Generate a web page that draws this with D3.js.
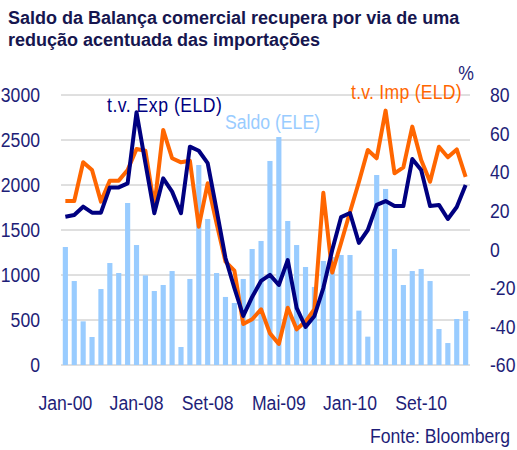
<!DOCTYPE html>
<html>
<head>
<meta charset="utf-8">
<script src="https://cdn.jsdelivr.net/npm/d3@7"></script>
<style>
  html, body { margin: 0; padding: 0; background: #ffffff; }
  svg { display: block; }
  .lbl { font-family: "Liberation Sans", Arial, sans-serif; }
</style>
</head>
<body>
<svg id="chart" width="517" height="450"></svg>
<script>
// ---- data ----
const categories = [
  "Mai-07","Jun-07","Jul-07","Ago-07","Set-07","Out-07","Nov-07","Dez-07",
  "Jan-08","Fev-08","Mar-08","Abr-08","Mai-08","Jun-08","Jul-08","Ago-08",
  "Set-08","Out-08","Nov-08","Dez-08","Jan-09","Fev-09","Mar-09","Abr-09",
  "Mai-09","Jun-09","Jul-09","Ago-09","Set-09","Out-09","Nov-09","Dez-09",
  "Jan-10","Fev-10","Mar-10","Abr-10","Mai-10","Jun-10","Jul-10","Ago-10",
  "Set-10","Out-10","Nov-10","Dez-10","Jan-11","Fev-11"
];
const saldo = [
  1311, 933, 485, 311, 844, 1133, 1022, 1800,
  1333, 996, 822, 889, 1044, 200, 956, 2222,
  1622, 1022, 756, 689, 956, 1289, 1378, 2267,
  2533, 1600, 1333, 1089, 867, 1156, 1200, 1222,
  1222, 604, 315, 2111, 1956, 1289, 889, 1044,
  1067, 933, 400, 244, 511, 600
];
const tvExp = [
  16.9, 17.8, 22.1, 19.0, 19.0, 32.1, 32.1, 34.2,
  71.0, 44.7, 18.7, 36.8, 29.9, 18.7, 53.2, 51.1,
  44.7, 20.4, -4.5, -20.1, -34.6, -24.7, -16.4, -13.3,
  -18.5, -5.6, -30.4, -40.3, -34.6, -20.1, -0.4, 16.7,
  18.8, 3.3, 10.0, 23.0, 25.0, 22.4, 22.4, 46.8,
  41.1, 22.4, 23.0, 15.7, 21.9, 33.3
];
const tvImp = [
  25.0, 25.0, 45.1, 41.1, 24.7, 35.6, 35.6, 41.1,
  52.0, 51.1, 22.1, 61.9, 47.2, 45.1, 45.9, 11.7,
  34.2, 13.5, -6.4, -11.1, -38.7, -36.3, -31.1, -43.6,
  -49.1, -30.3, -41.5, -37.5, -31.1, 29.3, -12.1, 3.4,
  19.3, 34.9, 51.5, 47.2, 71.9, 39.4, 42.5, 63.6,
  46.3, 35.0, 53.2, 47.7, 51.8, 37.6
];
const tickCategories = ["Mai-07","Jan-08","Set-08","Mai-09","Jan-10","Set-10"];
const tickLabels = ["Jan-00","Jan-08","Set-08","Mai-09","Jan-10","Set-10"];
const leftTicks = [0, 500, 1000, 1500, 2000, 2500, 3000];
const rightTicks = [-60, -40, -20, 0, 20, 40, 60, 80];
const titleLines = [
  "Saldo da Balança comercial recupera por via de uma",
  "redução acentuada das importações"
];

// ---- layout ----
const svg = d3.select("#chart");
const pLeft = 61, pRight = 470, pTop = 95, pBottom = 365;
const navy = "#000080", orange = "#FF6600", lightBlue = "#99CCFF";
const textNavy = "#1E1E78", titleNavy = "#16164F";
const fs = 21, sx = 0.84;

const x = d3.scaleBand().domain(categories).range([pLeft, pRight]).paddingInner(0.42).paddingOuter(0.2);
const yL = d3.scaleLinear().domain([0, 3000]).range([pBottom, pTop]);
const yR = d3.scaleLinear().domain([-60, 80]).range([pBottom, pTop]);

// compress text horizontally around its anchor (narrow face emulation)
function narrow(sel) {
  sel.each(function () {
    const t = d3.select(this);
    const ax = +(t.attr("x") || 0), ay = +(t.attr("y") || 0);
    t.attr("x", 0).attr("y", 0).attr("transform", `translate(${ax},${ay}) scale(${sx},1)`);
  });
}

// title
svg.append("g").selectAll("text").data(titleLines).join("text")
  .attr("x", 8).attr("y", (d, i) => 24 + i * 22)
  .attr("font-family", "'Liberation Sans', Arial, sans-serif")
  .attr("font-weight", "bold").attr("font-size", 18)
  .attr("fill", titleNavy)
  .text(d => d);

// gridlines
svg.append("g").selectAll("line").data(leftTicks).join("line")
  .attr("x1", pLeft).attr("x2", pRight)
  .attr("y1", d => yL(d)).attr("y2", d => yL(d))
  .attr("stroke", "#C0C0C0").attr("stroke-width", 1);

// bars
svg.append("g").selectAll("rect").data(saldo).join("rect")
  .attr("x", (d, i) => x(categories[i]))
  .attr("width", x.bandwidth())
  .attr("y", d => yL(d))
  .attr("height", d => yL(0) - yL(d))
  .attr("fill", lightBlue);

// lines
const line = d3.line()
  .x((d, i) => x(categories[i]) + x.bandwidth() / 2)
  .y(d => yR(d));
svg.append("path").datum(tvImp).attr("d", line)
  .attr("fill", "none").attr("stroke", orange).attr("stroke-width", 4).attr("stroke-linejoin", "round");
svg.append("path").datum(tvExp).attr("d", line)
  .attr("fill", "none").attr("stroke", navy).attr("stroke-width", 4).attr("stroke-linejoin", "round");

// axes
const plain = d => String(d);
const gL = svg.append("g").attr("transform", `translate(${pLeft},0)`)
  .call(d3.axisLeft(yL).tickValues(leftTicks).tickFormat(plain).tickSize(0).tickPadding(21));
const gR = svg.append("g").attr("transform", `translate(${pRight},0)`)
  .call(d3.axisRight(yR).tickValues(rightTicks).tickFormat(plain).tickSize(0).tickPadding(20));
const gB = svg.append("g").attr("transform", `translate(0,${pBottom})`)
  .call(d3.axisBottom(x).tickValues(tickCategories).tickFormat((d, i) => tickLabels[i]).tickSize(0).tickPadding(30));
[gL, gR, gB].forEach(g => {
  g.select(".domain").remove();
  g.attr("font-family", null).attr("font-size", null);
  g.selectAll("text").attr("class", "lbl").attr("font-size", fs).attr("fill", textNavy).call(narrow);
});

// % unit
svg.append("text").attr("class", "lbl").attr("x", 466).attr("y", 80)
  .attr("text-anchor", "middle").attr("font-size", fs).attr("fill", textNavy).text("%").call(narrow);

// series labels
svg.append("text").attr("class", "lbl").attr("x", 107).attr("y", 112)
  .attr("font-size", fs).attr("letter-spacing", 0.6).attr("fill", navy).text("t.v. Exp (ELD)").call(narrow);
svg.append("text").attr("class", "lbl").attr("x", 225).attr("y", 129)
  .attr("font-size", fs).attr("fill", lightBlue).text("Saldo (ELE)").call(narrow);
svg.append("text").attr("class", "lbl").attr("x", 351).attr("y", 99)
  .attr("font-size", fs).attr("letter-spacing", 0.3).attr("fill", orange).text("t.v. Imp (ELD)").call(narrow);

// source
svg.append("text").attr("class", "lbl").attr("x", 510).attr("y", 443)
  .attr("text-anchor", "end").attr("font-size", fs).attr("fill", textNavy).text("Fonte: Bloomberg").call(narrow);
</script>
</body>
</html>
